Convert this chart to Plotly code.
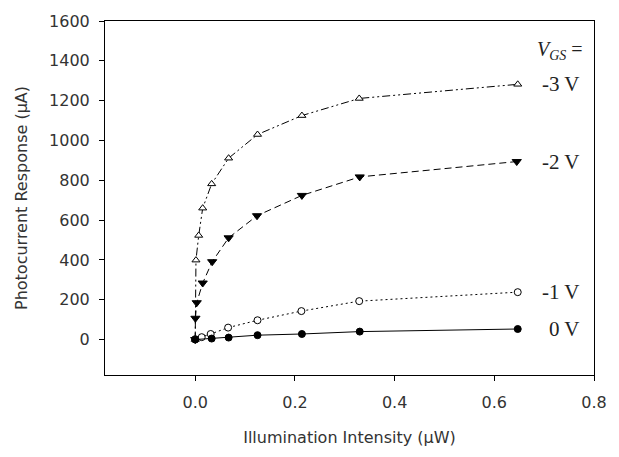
import plotly.graph_objects as go

# Data
x_m3 = [0.0, 0.0015, 0.007, 0.015, 0.033, 0.067, 0.125, 0.214, 0.329, 0.647]
y_m3 = [0, 399, 523, 660, 782, 911, 1030, 1125, 1211, 1282]

x_m2 = [0.0, 0.0004, 0.003, 0.015, 0.034, 0.067, 0.124, 0.214, 0.330, 0.645]
y_m2 = [0, 107, 185, 284, 391, 511, 622, 724, 817, 894]

x_m1 = [0.0, 0.013, 0.031, 0.066, 0.125, 0.213, 0.329, 0.647]
y_m1 = [2, 12, 28, 60, 97, 143, 193, 238]

x_0 = [0.0, 0.033, 0.067, 0.125, 0.214, 0.330, 0.647]
y_0 = [0, 5, 10, 22, 28, 40, 53]

series_labels = ["-3 V", "-2 V", "-1 V", "0 V"]
x_ticks = [0.0, 0.2, 0.4, 0.6, 0.8]
y_ticks = [0, 200, 400, 600, 800, 1000, 1200, 1400, 1600]

fig = go.Figure()

styles = [
    (x_m3, y_m3, "8px,3px,2px,3px,2px,3px", "triangle-up", "white", 7),
    (x_m2, y_m2, "7px,4px", "triangle-down", "black", 8),
    (x_m1, y_m1, "2px,3px", "circle", "white", 7),
    (x_0, y_0, "solid", "circle", "black", 7),
]

for (xs, ys, dash, sym, fill, size), name in zip(styles, series_labels):
    fig.add_trace(go.Scatter(
        x=xs, y=ys, mode="lines+markers", name=name,
        line=dict(color="black", width=1, dash=dash),
        marker=dict(symbol=sym, size=size, color=fill,
                    line=dict(color="black", width=1)),
        showlegend=False,
    ))
    fig.add_annotation(
        x=0.8, y=ys[-1], xref="x", yref="y", text=name,
        showarrow=False, xanchor="right", yanchor="middle", xshift=-12,
        font=dict(family="Liberation Serif", size=21, color="#222"),
    )

fig.add_annotation(
    x=0.8, y=y_m3[-1], xref="x", yref="y",
    text="<i>V<sub>GS</sub></i> =",
    showarrow=False, xanchor="right", yanchor="middle", xshift=-9, yshift=34,
    font=dict(family="Liberation Serif", size=20, color="#222"),
)

axis_font = dict(family="DejaVu Sans", size=16, color="#333")

fig.update_xaxes(
    range=[-0.181, 0.8], tickvals=x_ticks, tickformat=".1f",
    showline=True, linecolor="black", linewidth=1, mirror=True,
    ticks="outside", ticklen=5, tickcolor="black", tickwidth=1,
    showgrid=False, zeroline=False, tickfont=axis_font,
    ticklabelstandoff=8,
    title=dict(text="Illumination Intensity (µW)", font=axis_font, standoff=20),
)
fig.update_yaxes(
    range=[-178, 1600], tickvals=y_ticks,
    showline=True, linecolor="black", linewidth=1, mirror=True,
    ticks="outside", ticklen=5, tickcolor="black", tickwidth=1,
    showgrid=False, zeroline=False, tickfont=axis_font,
    ticklabelstandoff=6,
    title=dict(text="Photocurrent Response (µA)", font=axis_font, standoff=17),
)

fig.update_layout(
    width=619, height=457,
    margin=dict(l=105, r=17, t=16, b=82),
    plot_bgcolor="white", paper_bgcolor="white",
)

fig.write_html("out.html")
